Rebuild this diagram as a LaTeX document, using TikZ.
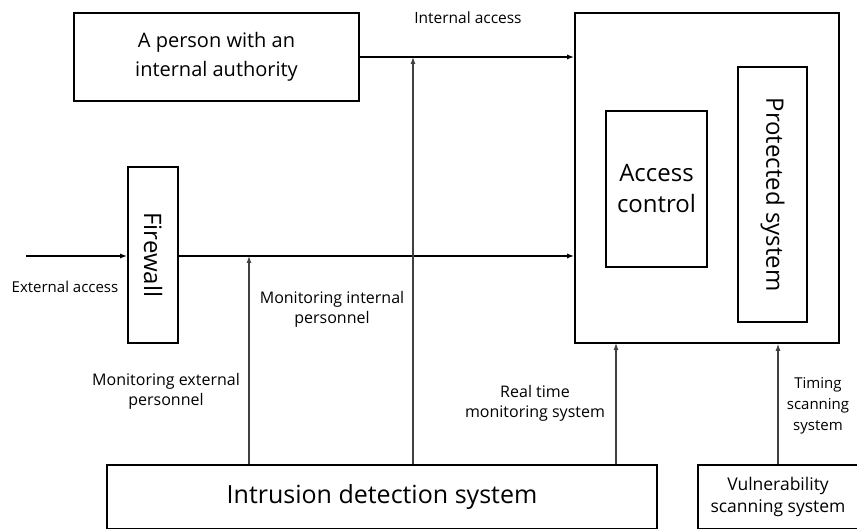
\documentclass[tikz,border=0pt]{standalone}
\usepackage{fontspec}
\setmainfont{Open Sans}
\usetikzlibrary{arrows.meta}
\begin{document}
\begin{tikzpicture}[x=1pt,y=-1pt,
  box/.style={draw,line width=1.6pt,inner sep=0pt,align=center,font=\fontsize{24}{31}\selectfont},
  tag/.style={align=center,font=\fontsize{16}{20}\selectfont},
  tip/.style={-{Latex[length=7pt,width=5pt]}},
  mon/.style={tip,line width=1.2pt,black!75}]
 \useasboundingbox (0,0) rectangle (857,529);
 \clip (0,0) rectangle (857,528.2);
 % boxes
 \node[box,minimum width=285,minimum height=88,font=\fontsize{20}{29}\selectfont] (person) at (216.5,57) {A person with an\\internal authority};
 \node[box,minimum width=264,minimum height=330] (main) at (707,178) {};
 \node[box,minimum width=101,minimum height=156] (access) at (656.5,189) {Access\\control};
 \node[box,rotate=-90,minimum width=255,minimum height=69] (prot) at (772.5,194.5) {Protected system};
 \node[box,rotate=-90,minimum width=176,minimum height=50] (fw) at (153,255) {Firewall};
 \node[box,minimum width=550,minimum height=64,font=\fontsize{25}{30}\selectfont] (ids) at (382,497) {Intrusion detection system};
 \node[box,minimum width=160,minimum height=64,font=\fontsize{17.5}{22}\selectfont] (vuln) at (778,497) {Vulnerability\\scanning system};
 % access paths
 \coordinate (ext) at (26,256);
 \draw[tip,line width=1.6pt] (ext) -- (ext -| fw.south);
 \draw[tip,line width=1.6pt] (ext -| fw.north) -- (ext -| main.west);
 \draw[tip,line width=1.6pt] (person.east) -- (person.east -| main.west);
 % monitoring
 \coordinate (mx) at (249,256);
 \coordinate (mi) at (413,57);
 \coordinate (mr) at (616,343);
 \draw[mon] (mx |- ids.north) -- (mx);
 \draw[mon] (mi |- ids.north) -- (mi);
 \draw[mon] (mr |- ids.north) -- (mr);
 \draw[mon] (vuln.north) -- (vuln.north |- main.south);
 % labels
 \node[tag,font=\fontsize{15.5}{20}\selectfont] (lint) at (468,18) {Internal access};
 \node[tag,font=\fontsize{15}{20}\selectfont] (lext) at (65,287) {External access};
 \node[tag] (lmi) at (332,309) {Monitoring internal\\personnel};
 \node[tag] (lme) at (166,391) {Monitoring external\\personnel};
 \node[tag] (lrt) at (535,403) {Real time\\monitoring system};
 \node[tag,font=\fontsize{15}{21}\selectfont] (ltm) at (818,406) {Timing\\scanning\\system};
\end{tikzpicture}
\end{document}
